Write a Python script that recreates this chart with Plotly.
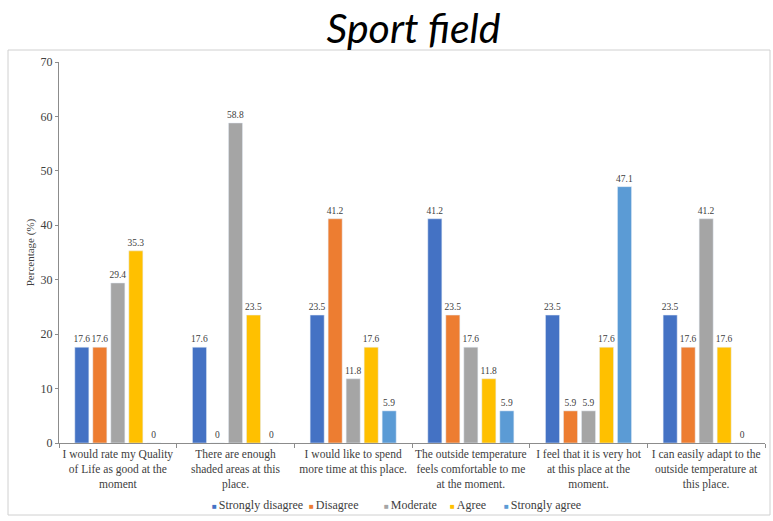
import plotly.graph_objects as go

categories = [
    "I would rate my Quality<br>of Life as good at the<br>moment",
    "There are enough<br>shaded areas at this<br>place.",
    "I would like to spend<br>more time at this place.",
    "The outside temperature<br>feels comfortable to me<br>at the moment.",
    "I feel that it is very hot<br>at this place at the<br>moment.",
    "I can easily adapt to the<br>outside temperature at<br>this place.",
]
strongly_disagree = [17.6, 17.6, 23.5, 41.2, 23.5, 23.5]
disagree = [17.6, 0, 41.2, 23.5, 5.9, 17.6]
moderate = [29.4, 58.8, 11.8, 17.6, 5.9, 41.2]
agree = [35.3, 23.5, 17.6, 11.8, 17.6, 17.6]
strongly_agree = [0, 0, 5.9, 5.9, 47.1, 0]

series = [
    ("Strongly disagree", strongly_disagree, "#4472C4"),
    ("Disagree", disagree, "#ED7D31"),
    ("Moderate", moderate, "#A5A5A5"),
    ("Agree", agree, "#FFC000"),
    ("Strongly agree", strongly_agree, "#5B9BD5"),
]

serif = "Liberation Serif, Times New Roman, serif"
fig = go.Figure()
for name, vals, col in series:
    fig.add_trace(go.Bar(
        name=name, x=categories, y=vals, marker_color=col,
        text=[f"{v:g}" for v in vals], textposition="outside",
        textfont=dict(family=serif, size=9.5, color="#404040"),
        constraintext="none",
        cliponaxis=False, showlegend=False,
    ))

W, H = 773, 521
l, r, t, b = 59, 8, 62, 78
pw, ph = W - l - r, H - t - b
def px(xp): return (xp - l) / pw
def py(yp): return (H - b - yp) / ph

# custom compact legend (small square markers like the original)
legend_x = [210, 307, 382, 448, 502]
annotations = []
for (name, _, col), lx in zip(series, legend_x):
    annotations.append(dict(
        xref="paper", yref="paper", x=px(lx), y=py(505),
        xanchor="left", yanchor="middle", showarrow=False,
        text=f"<span style='color:{col};font-size:8px'>■ </span>{name}",
        font=dict(family=serif, size=12, color="#404040"),
    ))

fig.update_layout(
    width=W, height=H,
    margin=dict(l=l, r=r, t=t, b=b, autoexpand=False),
    paper_bgcolor="white", plot_bgcolor="white",
    barmode="group", bargap=0.235, bargroupgap=0.22,
    font=dict(family=serif, color="#404040"),
    title=dict(text="<i>Sport field</i>", x=413.5 / W, xref="container", xanchor="center",
               y=1 - 29 / H, yanchor="middle",
               font=dict(family="Lato, Open Sans, sans-serif", size=41, color="black")),
    showlegend=False,
    annotations=annotations,
    shapes=[dict(type="rect", xref="paper", yref="paper",
                 x0=px(8), x1=px(770), y0=py(515), y1=py(50),
                 line=dict(color="#D0D0D0", width=1), fillcolor="rgba(0,0,0,0)", layer="below")],
)
fig.update_yaxes(range=[0, 70], dtick=10, showgrid=False, zeroline=False, automargin=False,
                 showline=True, linecolor="#8C8C8C", linewidth=1,
                 ticks="outside", ticklen=3, tickcolor="#8C8C8C",
                 tickfont=dict(family=serif, size=12, color="#404040"),
                 title=dict(text="Percentage (%)", font=dict(family=serif, size=11, color="#404040"), standoff=3))
fig.update_xaxes(showgrid=False, showline=True, linecolor="#8C8C8C", linewidth=1, automargin=False,
                 tickangle=0,
                 ticks="outside", ticklen=4, tickcolor="#8C8C8C", tickson="boundaries",
                 tickfont=dict(family=serif, size=11.5, color="#404040"))

fig.write_html("out.html", config={"displayModeBar": False},
               post_script="document.body.style.margin='0';")
